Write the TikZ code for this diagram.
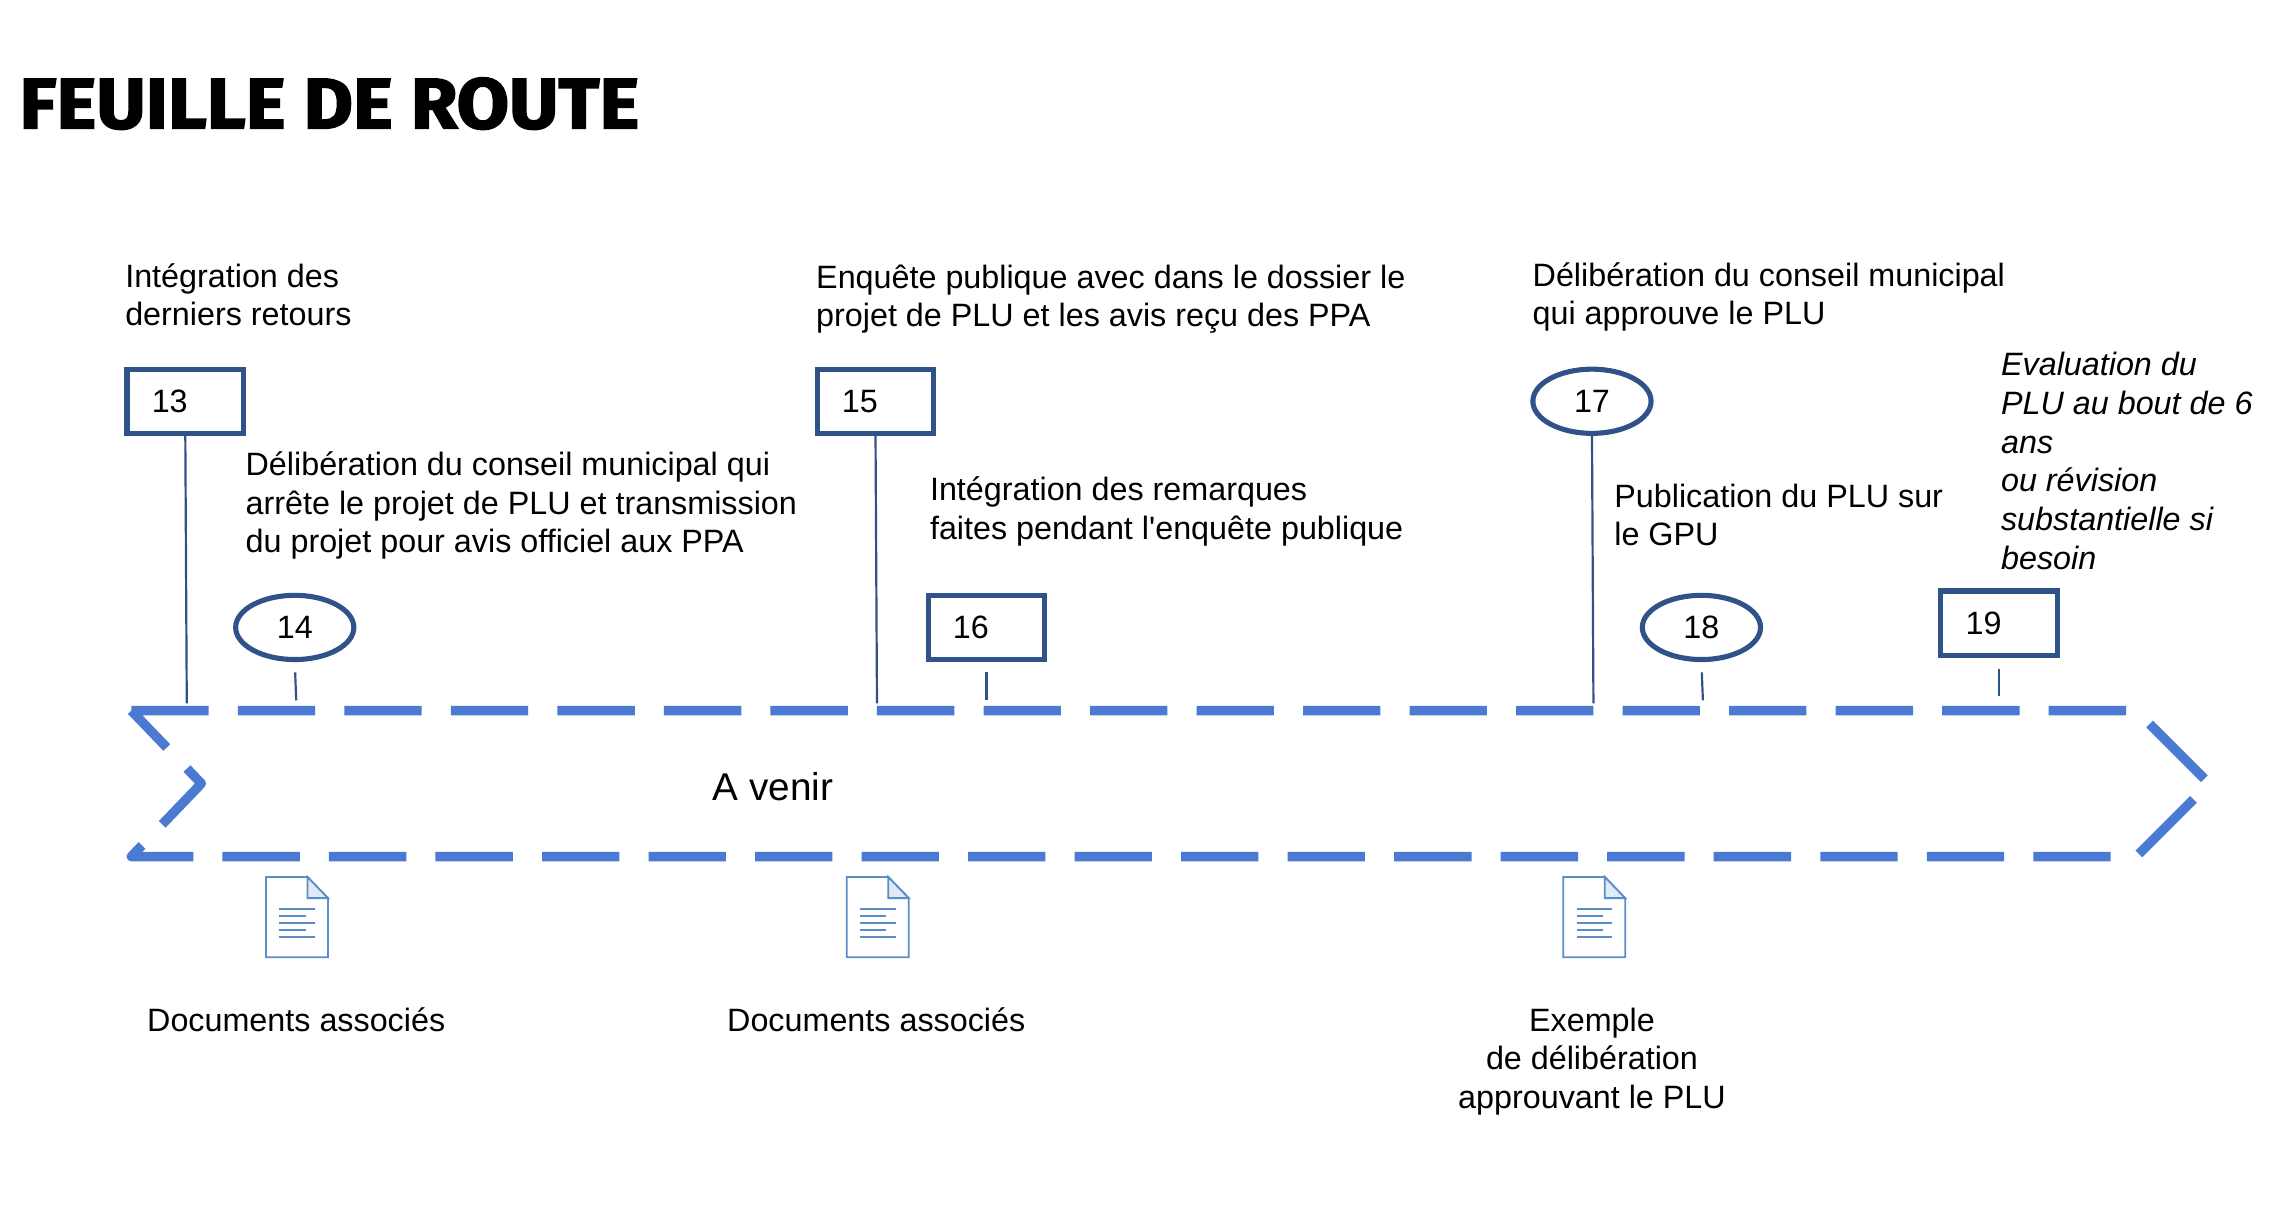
\documentclass[tikz,border=0pt]{standalone}
\usepackage{fontspec}
\setmainfont{Liberation Sans}
\newfontfamily\titlefont[FakeBold=2.2]{Fira Sans Bold}
\usetikzlibrary{shapes,arrows,positioning,calc}
\definecolor{navy}{RGB}{47,82,136}
\definecolor{ribbon}{RGB}{74,122,209}
\definecolor{docline}{RGB}{91,141,200}
\definecolor{docfold}{RGB}{222,235,247}

\begin{document}
\begin{tikzpicture}[
    stepbox/.style={rectangle, draw=navy, line width=0.07cm, fill=white, minimum width=1.6cm, minimum height=0.88cm, inner xsep=0.34cm, inner ysep=0pt, text width=0.92cm, align=left, font=\fontsize{12.6}{15}\selectfont},
    stepoval/.style={ellipse, draw=navy, line width=0.07cm, fill=white, minimum width=1.62cm, minimum height=0.88cm, inner sep=0pt, font=\fontsize{12.6}{15}\selectfont},
    txt/.style={anchor=west, align=left, inner sep=0pt, font=\fontsize{12.6}{15}\selectfont},
    caption/.style={align=center, inner sep=0pt, font=\fontsize{12.6}{15}\selectfont},
    tick/.style={draw=navy, line width=0.03cm},
    band/.style={draw=ribbon, line width=0.13cm, line join=round, dash pattern=on 1.06cm off 0.40cm},
    doc/.pic={
        \draw[docline, line width=0.025cm, fill=white] (-0.425,-0.55) -- (-0.425,0.55) -- (0.145,0.55) -- (0.425,0.26) -- (0.425,-0.55) -- cycle;
        \draw[docline, line width=0.025cm, fill=docfold] (0.145,0.55) -- (0.425,0.26) -- (0.145,0.26) -- cycle;
        \draw[docline, line width=0.025cm] (-0.24,0.11) -- (0.25,0.11);
        \draw[docline, line width=0.025cm] (-0.24,0.01) -- (0.12,0.01);
        \draw[docline, line width=0.025cm] (-0.24,-0.08) -- (0.25,-0.08);
        \draw[docline, line width=0.025cm] (-0.24,-0.18) -- (0.12,-0.18);
        \draw[docline, line width=0.025cm] (-0.24,-0.27) -- (0.25,-0.27);
    }
]
\useasboundingbox (0,0) rectangle (31.36,16.72);

% Title
\node[anchor=base west, inner sep=0pt, xscale=1.06, font=\titlefont\fontsize{27.9}{30}\selectfont] (title) at (0.26,14.96) {FEUILLE DE ROUTE};

% Ribbon
\draw[band] (1.80,6.98) -- (29.28,6.98) -- (30.28,5.98) -- (29.28,4.98) -- (1.80,4.98) -- (2.76,5.98) -- cycle;
\node[anchor=west, inner sep=0pt, font=\fontsize{15.1}{18}\selectfont] (venir) at (9.76,5.94) {A venir};

% Points on the ribbon
\coordinate (c13) at (2.56,7.08);
\coordinate (c14) at (4.06,7.12);
\coordinate (c15) at (12.02,7.08);
\coordinate (c16) at (13.52,7.12);
\coordinate (c17) at (21.84,7.08);
\coordinate (c18) at (23.34,7.12);
\coordinate (c19) at (27.40,7.18);

% Steps
\node[stepbox] (b13) at (2.54,11.22) {13};
\node[stepoval] (e14) at (4.04,8.12) {14};
\node[stepbox] (b15) at (12.00,11.22) {15};
\node[stepbox] (b16) at (13.52,8.12) {16};
\node[stepoval] (e17) at (21.82,11.22) {17};
\node[stepoval] (e18) at (23.32,8.12) {18};
\node[stepbox] (b19) at (27.40,8.18) {19};

% Ticks
\draw[tick] (b13.south) -- (c13);
\draw[tick, shorten <=0.14cm] (e14.south) -- (c14);
\draw[tick] (b15.south) -- (c15);
\draw[tick, shorten <=0.14cm] (b16.south) -- (c16);
\draw[tick] (e17.south) -- (c17);
\draw[tick, shorten <=0.14cm] (e18.south) -- (c18);
\draw[tick, shorten <=0.16cm] (b19.south) -- (c19);

% Step texts
\node[txt] (t13) at (1.71,12.68) {Intégration des\\derniers retours};
\node[txt] (t14) at (3.36,9.79) {Délibération du conseil municipal qui\\arrête le projet de PLU et transmission\\du projet pour avis officiel aux PPA};
\node[txt] (t15) at (11.18,12.62) {Enquête publique avec dans le dossier le\\projet de PLU et les avis reçu des PPA};
\node[txt] (t16) at (12.74,9.71) {Intégration des remarques\\faites pendant l\textquotesingle enquête publique};
\node[txt] (t17) at (21.00,12.65) {Délibération du conseil municipal\\qui approuve le PLU};
\node[txt] (t18) at (22.12,9.66) {Publication du PLU sur\\le GPU};
\node[txt, font=\fontsize{12.6}{15.1}\selectfont\itshape] (t19) at (27.42,10.40) {Evaluation du\\PLU au bout de 6\\ans\\ou révision\\substantielle si\\besoin};

% Documents
\pic at (4.07,4.15) {doc};
\pic at (12.03,4.15) {doc};
\pic at (21.85,4.15) {doc};
\node[caption] (d14) at (4.06,2.74) {Documents associés};
\node[caption] (d15) at (12.01,2.74) {Documents associés};
\node[caption] (d17) at (21.82,2.17) {Exemple\\de délibération\\approuvant le PLU};

\end{tikzpicture}
\end{document}
